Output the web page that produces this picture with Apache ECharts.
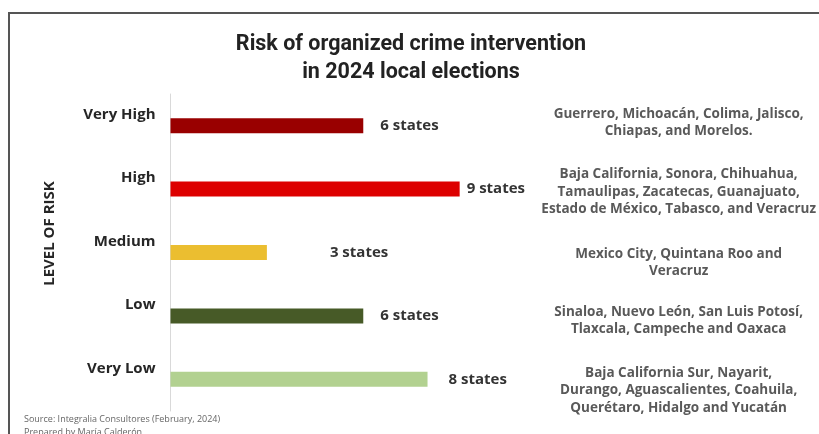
<!DOCTYPE html>
<html>
<head>
<meta charset="utf-8">
<style>html,body{margin:0;padding:0;background:#fff;}#c{width:819px;height:434px;}</style>
<script src="https://cdn.jsdelivr.net/npm/echarts@6/dist/echarts.min.js"></script>
</head>
<body>
<div id="c"></div>
<script>
// ---- data ----
var categories = ['Very High', 'High', 'Medium', 'Low', 'Very Low'];
var stateCounts = [6, 9, 3, 6, 8];
var stateLists = [
  'Guerrero, Michoacán, Colima, Jalisco,\nChiapas, and Morelos.',
  'Baja California, Sonora, Chihuahua,\nTamaulipas, Zacatecas, Guanajuato,\nEstado de México, Tabasco, and Veracruz',
  'Mexico City, Quintana Roo and\nVeracruz',
  'Sinaloa, Nuevo León, San Luis Potosí,\nTlaxcala, Campeche and Oaxaca',
  'Baja California Sur, Nayarit,\nDurango, Aguascalientes, Coahuila,\nQuerétaro, Hidalgo and Yucatán'
];
var titleText = 'Risk of organized crime intervention\nin 2024 local elections';
var axisName = 'LEVEL OF RISK';
var sourceText = 'Source: Integralia Consultores (February, 2024)\nPrepared by María Calderón';

// ---- styles ----
var barColors = ['#990000', '#DD0000', '#EBBE30', '#475A27', '#B2D190'];
var labelGaps = [17, 7, 63, 17, 21];
var descShift = [-3, 3, 10, 5, 11];
var FONT = '"Open Sans", sans-serif';

var rich = {};
descShift.forEach(function (s, i) {
  rich['d' + i] = {
    fontFamily: FONT, fontSize: 13.5, fontWeight: 'bold', color: '#595959',
    lineHeight: 17.5, align: 'center',
    padding: s >= 0 ? [2 * s, 0, 0, 0] : [0, 0, -2 * s, 0]
  };
});

var chart = echarts.init(document.getElementById('c'), null, {renderer: 'canvas'});
chart.setOption({
  backgroundColor: '#fff',
  animation: false,
  title: [{
    text: titleText,
    left: 411, top: 31, padding: 0, textAlign: 'center',
    textStyle: {fontFamily: 'Roboto, sans-serif', fontSize: 21.5, fontWeight: 'bold', color: '#222', lineHeight: 28}
  }, {
    text: sourceText,
    left: 24, top: 413, padding: 0,
    textStyle: {fontFamily: FONT, fontSize: 9, fontWeight: 'normal', color: '#666', lineHeight: 13}
  }],
  graphic: [{
    type: 'rect', silent: true,
    shape: {x: 9, y: 13, width: 900, height: 500},
    style: {fill: 'none', stroke: '#555', lineWidth: 2}
  }],
  grid: {left: 170.5, right: 358, top: 94, bottom: 23, containLabel: false},
  xAxis: {type: 'value', min: 0, max: 9, show: false},
  yAxis: [{
    type: 'category', inverse: true, data: categories,
    axisLine: {show: true, lineStyle: {color: '#d9d9d9', width: 1}},
    axisTick: {show: false},
    splitLine: {show: false},
    axisLabel: {
      margin: 15,
      formatter: function (v) { return '{l|' + v + '}'; },
      rich: {l: {fontFamily: FONT, fontSize: 15, fontWeight: 'bold', color: '#262626', padding: [0, 0, 22, 0]}}
    },
    name: axisName, nameLocation: 'middle', nameRotate: 90, nameGap: 113,
    nameTextStyle: {fontFamily: FONT, fontSize: 15, fontWeight: 'bold', color: '#262626', padding: [0, 0, 0, 38]}
  }, {
    type: 'category', inverse: true, data: categories, position: 'right',
    axisLine: {show: false}, axisTick: {show: false}, splitLine: {show: false},
    axisLabel: {
      margin: 219, align: 'center',
      formatter: function (v, i) { return '{d' + i + '|' + stateLists[i] + '}'; },
      rich: rich
    }
  }],
  series: [{
    type: 'bar', yAxisIndex: 0, barWidth: 15,
    data: stateCounts.map(function (v, i) {
      return {
        value: v,
        itemStyle: {color: barColors[i]},
        label: {distance: labelGaps[i]}
      };
    }),
    label: {
      show: true, position: 'right',
      formatter: '{c} states',
      fontFamily: FONT, fontSize: 15, fontWeight: 'bold', color: '#333'
    }
  }]
});
</script>
</body>
</html>
